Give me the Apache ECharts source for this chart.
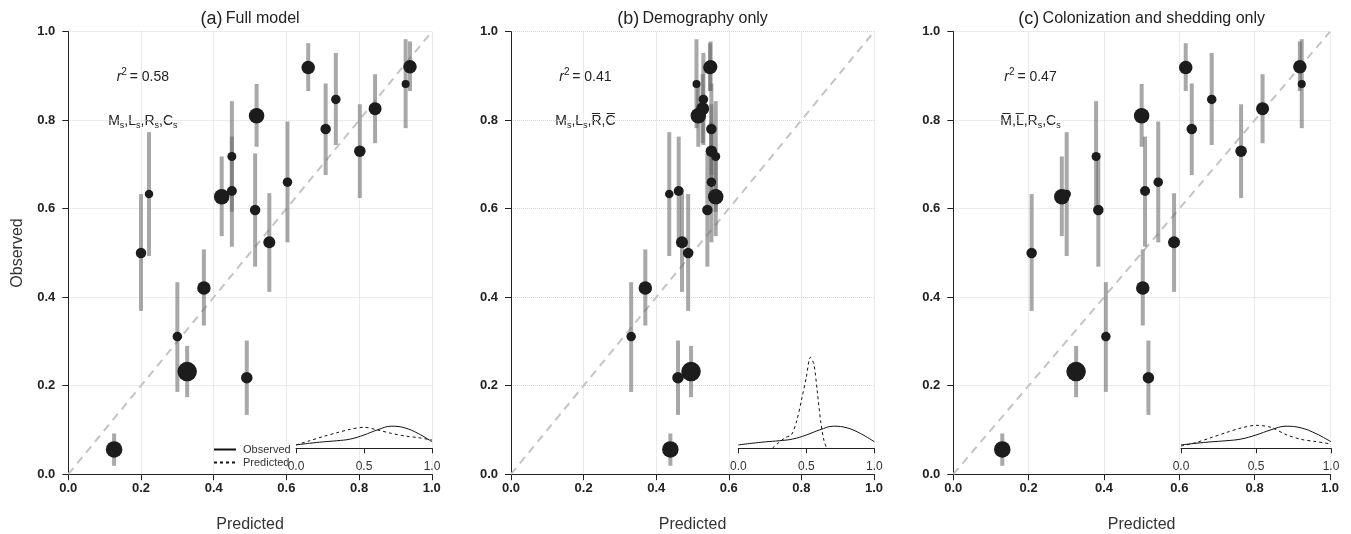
<!DOCTYPE html>
<html>
<head>
<meta charset="utf-8">
<script src="https://cdn.jsdelivr.net/npm/echarts@6/dist/echarts.min.js"></script>
<style>
  html, body { margin: 0; padding: 0; background: #fff; }
  #chart { width: 1351px; height: 534px; }
</style>
</head>
<body>
<div id="chart"></div>
<script>
// observed prevalence per site (shared by all three panels) with its interval and point size
const observed  = [0.919, 0.921, 0.882, 0.847, 0.826, 0.780, 0.810, 0.730, 0.718, 0.640, 0.627, 0.633, 0.500, 0.597, 0.660, 0.524, 0.421, 0.311, 0.232, 0.218, 0.056];
const obsLower  = [0.866, 0.866, 0.782, 0.744, 0.748, 0.676, 0.740, 0.624, 0.593, 0.514, 0.538, 0.493, 0.369, 0.469, 0.524, 0.412, 0.336, 0.186, 0.174, 0.134, 0.019];
const obsUpper  = [0.974, 0.978, 0.983, 0.952, 0.904, 0.883, 0.882, 0.836, 0.843, 0.763, 0.718, 0.773, 0.633, 0.725, 0.797, 0.635, 0.508, 0.434, 0.290, 0.302, 0.092];
const pointSize = [13.5, 13.5, 8, 9.5, 13, 10.5, 15.5, 11.5, 9, 10, 15.5, 8.5, 10.5, 10.5, 9.5, 12, 13.5, 9.5, 19.5, 11.5, 16.5];

// predicted values per model
const predFull  = [0.660, 0.940, 0.928, 0.736, 0.844, 0.708, 0.518, 0.802, 0.450, 0.450, 0.422, 0.222, 0.200, 0.514, 0.603, 0.553, 0.373, 0.300, 0.327, 0.491, 0.126];
const predDemo  = [0.548, 0.550, 0.511, 0.530, 0.528, 0.552, 0.516, 0.552, 0.564, 0.462, 0.564, 0.436, 0.488, 0.541, 0.552, 0.471, 0.370, 0.331, 0.496, 0.460, 0.439];
const predColon = [0.617, 0.920, 0.925, 0.686, 0.821, 0.633, 0.500, 0.764, 0.379, 0.509, 0.288, 0.301, 0.208, 0.385, 0.544, 0.586, 0.503, 0.405, 0.326, 0.518, 0.130];

// inset density curves
const densX         = [0, 0.1, 0.2, 0.3, 0.4, 0.5, 0.6, 0.7, 0.8, 0.9, 1.0];
const densObserved  = [0.24, 0.36, 0.46, 0.54, 0.66, 0.95, 1.32, 1.58, 1.46, 1.05, 0.47];
const densFull      = [0.24, 0.54, 0.84, 1.11, 1.36, 1.50, 1.31, 1.07, 0.88, 0.76, 0.59];
const densColon     = [0.16, 0.41, 0.76, 1.12, 1.45, 1.64, 1.50, 0.98, 0.64, 0.48, 0.31];
const densDemoX     = [0.25, 0.30, 0.35, 0.39, 0.43, 0.466, 0.50, 0.53, 0.556, 0.58, 0.605, 0.63, 0.65];
const densDemo      = [0, 0.43, 0.79, 0.95, 1.98, 3.52, 5.07, 6.50, 6.00, 4.12, 1.98, 0.55, 0];

const mainTickLabels  = ['0.0', '0.2', '0.4', '0.6', '0.8', '1.0'];
const insetTickLabels = ['0.0', '0.5', '1.0'];

const panels = [
  { left: 68.3, width: 363.5, insetLeft: 296, insetWidth: 136, pred: predFull, densX: densX, dens: densFull,
    tag: '(a)', title: 'Full model', r2: '0.58', model: 'M{s|s},L{s|s},R{s|s},C{s|s}' },
  { left: 511, width: 363, insetLeft: 738.3, insetWidth: 136, pred: predDemo, densX: densDemoX, dens: densDemo,
    tag: '(b)', title: 'Demography only', r2: '0.41', model: 'M{s|s},L{s|s},R\u0305,C\u0305' },
  { left: 953.3, width: 376.7, insetLeft: 1181, insetWidth: 150, pred: predColon, densX: densX, dens: densColon,
    tag: '(c)', title: 'Colonization and shedding only', r2: '0.47', model: 'M\u0305,L\u0305,R{s|s},C{s|s}' }
];

const FONT = "'Liberation Sans', Arial, sans-serif";
const chart = echarts.init(document.getElementById('chart'));

const grid = [], xAxis = [], yAxis = [], series = [], graphic = [];

panels.forEach((p, i) => {
  grid.push({ left: p.left, top: 31.7, width: p.width, height: 442.5, outerBoundsMode: 'none', containLabel: false });
  grid.push({ left: p.insetLeft, top: 350.3, width: p.insetWidth, height: 98, outerBoundsMode: 'none', containLabel: false });

  xAxis.push({
    type: 'value', gridIndex: 2 * i, min: 0, max: 1, interval: 0.2,
    axisLine: { lineStyle: { color: '#222', width: 1 } },
    axisTick: { length: 6, lineStyle: { color: '#222' } },
    axisLabel: { fontFamily: FONT, fontSize: 13, fontWeight: 'bold', color: '#222', margin: 8,
      formatter: v => mainTickLabels[Math.round(v / 0.2)] },
    splitLine: { show: true, lineStyle: { color: '#d8d8d8', type: 'dotted', width: 1 } },
    name: 'Predicted', nameLocation: 'middle', nameGap: 42,
    nameTextStyle: { fontFamily: FONT, fontSize: 16, color: '#333' }
  });
  xAxis.push({
    type: 'value', gridIndex: 2 * i + 1, min: 0, max: 1, interval: 0.5,
    axisLine: { lineStyle: { color: '#222', width: 1 } },
    axisTick: { length: 5, lineStyle: { color: '#222' } },
    axisLabel: { fontFamily: FONT, fontSize: 12, color: '#333', margin: 12,
      formatter: v => insetTickLabels[Math.round(v / 0.5)] },
    splitLine: { show: false }
  });

  yAxis.push({
    type: 'value', gridIndex: 2 * i, min: 0, max: 1, interval: 0.2,
    axisLine: { show: true, lineStyle: { color: '#222', width: 1 } },
    axisTick: { show: true, length: 6, lineStyle: { color: '#222' } },
    axisLabel: { fontFamily: FONT, fontSize: 13, fontWeight: 'bold', color: '#222', margin: 13,
      formatter: v => mainTickLabels[Math.round(v / 0.2)] },
    splitLine: { show: true, lineStyle: { color: '#d8d8d8', type: 'dotted', width: 1 } },
    name: i === 0 ? 'Observed' : '', nameLocation: 'middle', nameGap: 43,
    nameTextStyle: { fontFamily: FONT, fontSize: 16, color: '#333' }
  });
  yAxis.push({ type: 'value', gridIndex: 2 * i + 1, min: 0, max: 7, show: false });

  // 1:1 reference line
  series.push({
    type: 'line', xAxisIndex: 2 * i, yAxisIndex: 2 * i, data: [[0, 0], [1, 1]],
    symbol: 'none', silent: true, z: 1,
    lineStyle: { color: '#c4c4c4', width: 2, type: [8, 6] }
  });
  // observed intervals
  series.push({
    type: 'custom', xAxisIndex: 2 * i, yAxisIndex: 2 * i, z: 2,
    data: p.pred.map((x, k) => [x, obsLower[k], obsUpper[k]]),
    encode: { x: 0, y: [1, 2] },
    renderItem: (params, api) => {
      const lo = api.coord([api.value(0), api.value(1)]);
      const hi = api.coord([api.value(0), api.value(2)]);
      return { type: 'line', shape: { x1: lo[0], y1: lo[1], x2: hi[0], y2: hi[1] },
        style: { stroke: 'rgba(105,105,105,0.58)', lineWidth: 4 } };
    }
  });
  series.push({
    type: 'scatter', xAxisIndex: 2 * i, yAxisIndex: 2 * i, z: 3,
    data: p.pred.map((x, k) => [x, observed[k], pointSize[k]]),
    symbolSize: v => v[2],
    itemStyle: { color: '#1c1c1c', opacity: 1 }
  });
  // inset densities
  series.push({
    name: 'Observed', type: 'line', xAxisIndex: 2 * i + 1, yAxisIndex: 2 * i + 1,
    data: densX.map((x, k) => [x, densObserved[k]]), smooth: 0.4, symbol: 'none',
    itemStyle: { color: '#111' },
    lineStyle: { color: '#111', width: 1 }
  });
  series.push({
    name: 'Predicted', type: 'line', xAxisIndex: 2 * i + 1, yAxisIndex: 2 * i + 1,
    data: p.densX.map((x, k) => [x, p.dens[k]]), smooth: 0.3, symbol: 'none',
    itemStyle: { color: '#111' },
    lineStyle: { color: '#111', width: 1, type: [3, 3] }
  });

  const cx = p.left + p.width / 2;
  graphic.push({
    type: 'text', x: cx, y: 19,
    style: { text: '{t|' + p.tag + '} {n|' + p.title + '}', align: 'center', verticalAlign: 'middle', fill: '#222',
      rich: { t: { fontFamily: FONT, fontSize: 18, fill: '#222' }, n: { fontFamily: FONT, fontSize: 16, fill: '#222' } } }
  });
  const ax = p.left + 0.205 * p.width;
  graphic.push({
    type: 'text', x: ax, y: 77,
    style: { text: '{i|r}{sup|2}{n|\u2009= ' + p.r2 + '}', align: 'center', verticalAlign: 'middle',
      rich: {
        i: { fontFamily: FONT, fontSize: 14, fontStyle: 'italic', fill: '#222', lineHeight: 20 },
        sup: { fontFamily: FONT, fontSize: 10, fill: '#222', lineHeight: 10, verticalAlign: 'top' },
        n: { fontFamily: FONT, fontSize: 14, fill: '#222', lineHeight: 20 }
      } }
  });
  graphic.push({
    type: 'text', x: ax, y: 121,
    style: { text: p.model, align: 'center', verticalAlign: 'middle',
      fontFamily: FONT, fontSize: 14, fill: '#222', lineHeight: 18,
      rich: { s: { fontFamily: FONT, fontSize: 9, fill: '#222', lineHeight: 9, verticalAlign: 'bottom' } } }
  });
});

chart.setOption({
  backgroundColor: '#fff',
  animation: false,
  textStyle: { fontFamily: FONT },
  grid: grid,
  xAxis: xAxis,
  yAxis: yAxis,
  series: series,
  graphic: graphic,
  legend: {
    data: ['Observed', 'Predicted'], orient: 'vertical', left: 208, top: 439,
    itemWidth: 22, itemHeight: 10, itemGap: 2, selectedMode: false,
    itemStyle: { opacity: 0 },
    textStyle: { fontFamily: FONT, fontSize: 11, color: '#333', padding: [0, 0, 0, 2] }
  }
});
</script>
</body>
</html>
